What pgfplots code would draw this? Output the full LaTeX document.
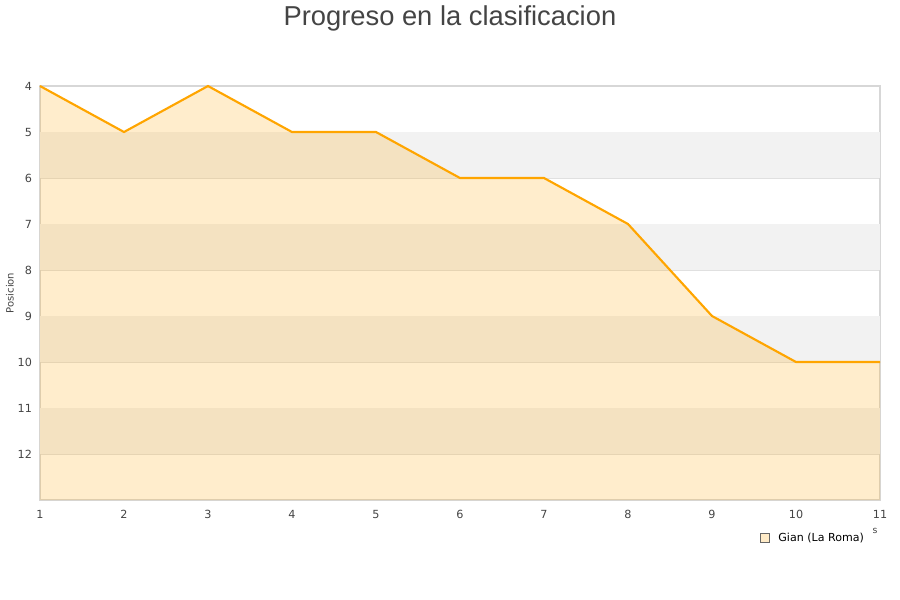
\documentclass[border=0pt]{standalone}
\usepackage{pgfplots}
\pgfplotsset{compat=1.18}
\usepackage{fontspec}
\setmainfont{DejaVu Sans}
\newfontfamily\titlefont{Liberation Sans}
\definecolor{lineor}{RGB}{255,165,0}
\definecolor{band}{RGB}{242,242,242}
\definecolor{gridc}{RGB}{224,224,224}
\definecolor{framec}{RGB}{215,215,215}
\definecolor{tickc}{RGB}{68,68,68}

\begin{document}
\begin{tikzpicture}
% page = 900x600 px, 1px = 0.75pt
\path[use as bounding box] (-30pt,-75pt) rectangle (645pt,375pt);
\begin{axis}[
    at={(0,0)}, anchor=south west,
    scale only axis, clip=false,
    width=630pt, height=310.5pt,
    xmin=1, xmax=11, ymin=4, ymax=13,
    y dir=reverse,
    xtick={1,...,11}, ytick={4,...,12},
    ymajorgrids, grid style={gridc, line width=0.6pt},
    major tick length=0pt,
    axis line style={framec, line width=0.8pt},
    tick label style={font=\fontsize{8.4}{10}\selectfont, text=tickc},
    /pgf/number format/assume math mode=true,
    xticklabel style={yshift=-4pt},
    yticklabel style={xshift=-2.5pt},
    ylabel={Posicion},
    ylabel style={font=\fontsize{7.5}{9}\selectfont, text=tickc, at={(axis description cs:-0.0357,0.5)}, anchor=center},
    title={Progreso en la clasificacion},
    title style={font=\titlefont\fontsize{20.5}{24}\selectfont, text=tickc, at={(axis description cs:0.488,1.128)}, anchor=base},
    legend style={at={(0.986,-0.092)}, anchor=east, draw=none, fill=none,
        font=\fontsize{8.3}{10}\selectfont, inner sep=1pt},
    legend cell align=left,
]
% alternating bands
\fill[band] (axis cs:1,5) rectangle (axis cs:11,6);
\fill[band] (axis cs:1,7) rectangle (axis cs:11,8);
\fill[band] (axis cs:1,9) rectangle (axis cs:11,10);
\fill[band] (axis cs:1,11) rectangle (axis cs:11,12);

\addplot[draw=none, fill=lineor, fill opacity=0.2, forget plot]
    coordinates {(1,4) (2,5) (3,4) (4,5) (5,5) (6,6) (7,6) (8,7) (9,9) (10,10) (11,10) (11,13) (1,13)} -- cycle;
\addplot[lineor, line width=1.6pt, no marks,
    legend image code/.code={\draw[fill=lineor!22, draw=gray!80!black, line width=0.4pt] (0pt,-3.3pt) rectangle (6.6pt,3.3pt);}]
    coordinates {(1,4) (2,5) (3,4) (4,5) (5,5) (6,6) (7,6) (8,7) (9,9) (10,10) (11,10)};
\legend{\hspace{5pt}Gian (La Roma)}
\node[font=\fontsize{7}{8}\selectfont, text=tickc] at (axis cs:10.94,13.68) {s};
\end{axis}
\end{tikzpicture}
\end{document}
